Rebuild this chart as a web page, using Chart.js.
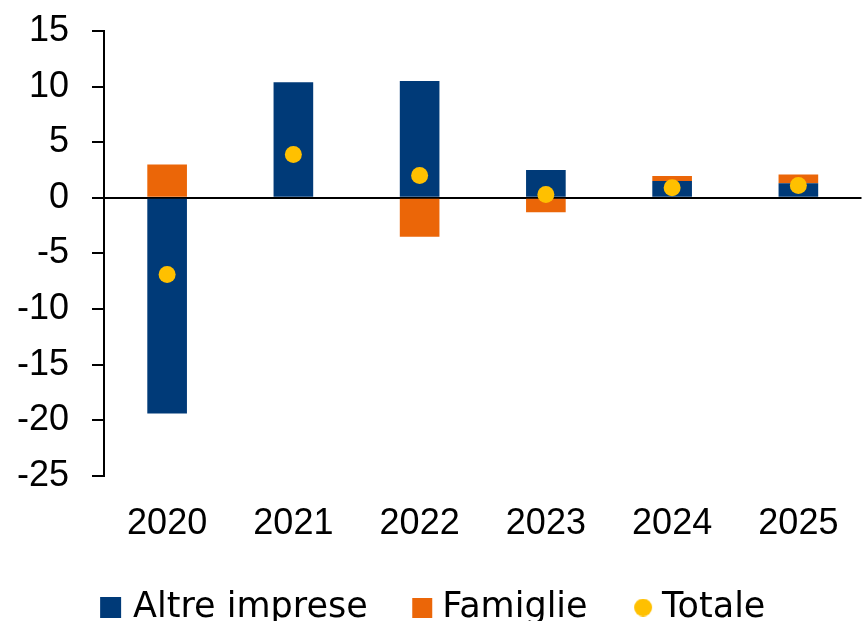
<!DOCTYPE html>
<html>
<head>
<meta charset="utf-8">
<script src="https://cdn.jsdelivr.net/npm/chart.js@4/dist/chart.umd.min.js"></script>
<style>
  html, body { margin: 0; padding: 0; background: #fff; overflow: hidden; }
  #wrap { width: 870px; height: 635px; }
</style>
</head>
<body>
<div id="wrap"><canvas id="chart" width="870" height="635"></canvas></div>
<script>
// Data
const years = ['2020', '2021', '2022', '2023', '2024', '2025'];
const altreImprese = [-19.4, 10.4, 10.5, 2.5, 1.5, 1.3];
const famiglie = [3.0, 0, -3.5, -1.3, 0.45, 0.8];
const totale = [-6.9, 3.9, 2.0, 0.3, 0.9, 1.1];
const yTicks = [15, 10, 5, 0, -5, -10, -15, -20, -25];

const NAVY = '#003A78';
const ORANGE = '#EB6608';
const YELLOW = '#FFC000';

const tickFont = { family: 'Liberation Sans', size: 36 };
const legendFont = { family: 'DejaVu Sans', size: 35 };

// Legend markers: wide transparent canvas, shape sits just left of the text
const BOX = 35;
function marker(kind, size, color, gap) {
  const c = document.createElement('canvas');
  c.width = BOX * 2; c.height = size;
  const g = c.getContext('2d');
  g.fillStyle = color;
  const left = c.width - gap - size;
  if (kind === 'circle') {
    g.beginPath();
    g.arc(left + size / 2, size / 2, size / 2, 0, Math.PI * 2);
    g.fill();
  } else {
    g.fillRect(left, 0, size, size);
  }
  return c;
}
const legendMarkers = [
  marker('rect', 21, NAVY, 12),
  marker('rect', 20, ORANGE, 10),
  marker('circle', 18, YELLOW, 10)
];

new Chart(document.getElementById('chart'), {
  type: 'bar',
  data: {
    labels: years,
    datasets: [
      {
        label: 'Altre imprese',
        data: altreImprese,
        backgroundColor: NAVY,
        stack: 'bars',
        order: 1
      },
      {
        label: 'Famiglie',
        data: famiglie,
        backgroundColor: ORANGE,
        stack: 'bars',
        order: 1
      },
      {
        type: 'line',
        label: 'Totale',
        data: totale,
        showLine: false,
        pointRadius: 8.5,
        pointHoverRadius: 8.5,
        pointBackgroundColor: YELLOW,
        pointBorderWidth: 0,
        borderColor: YELLOW,
        backgroundColor: YELLOW,
        stack: 'totale',
        order: 0
      }
    ]
  },
  options: {
    responsive: false,
    animation: false,
    categoryPercentage: 1,
    barPercentage: 0.314,
    layout: { padding: { top: 31, right: 2, left: -22, bottom: 0 } },
    plugins: {
      tooltip: { enabled: false },
      legend: {
        position: 'bottom',
        labels: {
          usePointStyle: true,
          boxWidth: BOX,
          boxHeight: 6,
          padding: 22,
          color: '#000',
          font: legendFont,
          sort: (a, b) => a.datasetIndex - b.datasetIndex,
          generateLabels: (chart) => {
            const items = Chart.defaults.plugins.legend.labels.generateLabels(chart);
            items.forEach(it => { it.pointStyle = legendMarkers[it.datasetIndex]; });
            return items;
          }
        }
      }
    },
    scales: {
      x: {
        stacked: true,
        afterFit: (scale) => { scale.height = scale.height - 5; },
        grid: { display: false, drawTicks: false },
        border: { display: false },
        ticks: { color: '#000', font: tickFont, padding: 27 }
      },
      y: {
        stacked: true,
        min: -25,
        max: 15,
        afterBuildTicks: (scale) => { scale.ticks = yTicks.map(v => ({ value: v })); },
        afterFit: (scale) => {
          scale.width = 126;
          scale.paddingTop = 0;
          scale.paddingBottom = 0;
        },
        grid: {
          color: (ctx) => (ctx.tick && ctx.tick.value === 0 ? '#000' : 'rgba(0,0,0,0)'),
          lineWidth: 2,
          tickColor: '#000',
          tickLength: 12,
          drawTicks: true
        },
        border: { display: true, color: '#000', width: 2 },
        ticks: { color: '#000', font: tickFont, padding: 23 }
      }
    }
  }
});
</script>
</body>
</html>
